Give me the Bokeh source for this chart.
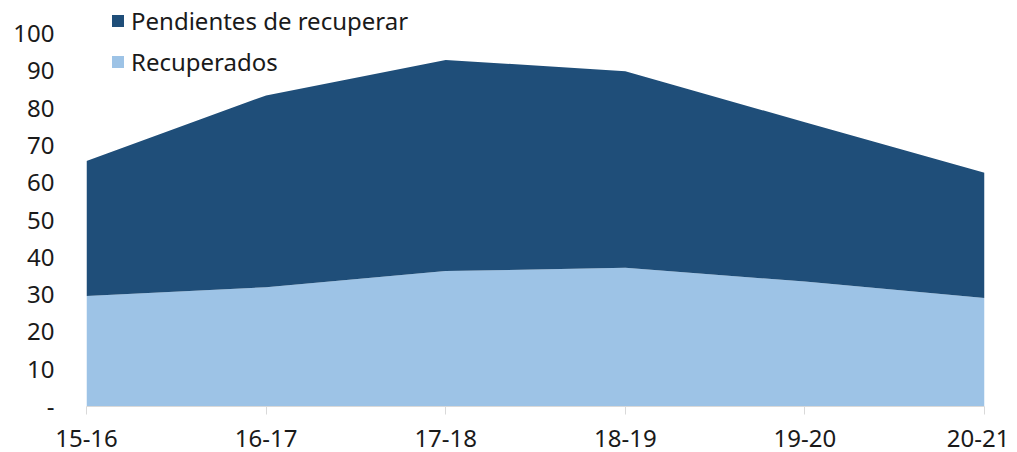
from bokeh.plotting import figure
from bokeh.models import ColumnDataSource, Range1d, FixedTicker, Legend, LegendItem
from bokeh.embed import file_html
from bokeh.resources import INLINE

categories = ["15-16", "16-17", "17-18", "18-19", "19-20", "20-21"]
recuperados = [29.6, 32.0, 36.3, 37.2, 33.5, 29.1]
pendientes = [36.2, 51.4, 56.6, 52.7, 42.7, 33.6]
y_ticks = [0, 10, 20, 30, 40, 50, 60, 70, 80, 90, 100]
y_labels = ["-", "10", "20", "30", "40", "50", "60", "70", "80", "90", "100"]

FONT = "Noto Sans"
TXT = "#1a1a1a"

src = ColumnDataSource(dict(
    x=list(range(len(categories))),
    rec=recuperados,
    pend=pendientes,
))

# frame spans canvas rows 0..406; value 100 sits at row 33
y_top = 100 * 406 / 373

p = figure(width=1009, height=452, output_backend="svg", toolbar_location=None,
           x_range=Range1d(0, len(categories) - 1), y_range=Range1d(0, y_top),
           min_border_left=86, min_border_right=25, min_border_top=0, min_border_bottom=46)
p.outline_line_color = None
p.xgrid.grid_line_color = None
p.ygrid.grid_line_color = None

r = p.varea_stack(stackers=["rec", "pend"], x="x", source=src,
                  color=["#9DC3E6", "#1F4E79"])

# x axis
p.xaxis.ticker = FixedTicker(ticks=list(range(len(categories))))
p.xaxis.major_label_overrides = {i: c for i, c in enumerate(categories)}
p.xaxis.axis_line_color = "#D9D9D9"
p.xaxis.major_tick_line_color = "#D9D9D9"
p.xaxis.major_tick_out = 8
p.xaxis.major_tick_in = 0
p.xaxis.minor_tick_line_color = None
p.xaxis.major_label_standoff = 15
p.xaxis.major_label_text_font = FONT
p.xaxis.major_label_text_font_size = "24px"
p.xaxis.major_label_text_color = TXT

# y axis
p.yaxis.ticker = FixedTicker(ticks=y_ticks)
p.yaxis.major_label_overrides = {t: l for t, l in zip(y_ticks, y_labels)}
p.yaxis.axis_line_color = None
p.yaxis.major_tick_line_color = None
p.yaxis.minor_tick_line_color = None
p.yaxis.major_tick_out = 0
p.yaxis.major_label_standoff = 32
p.yaxis.major_label_text_font = FONT
p.yaxis.major_label_text_font_size = "24px"
p.yaxis.major_label_text_color = TXT

legend = Legend(items=[
    LegendItem(label="Pendientes de recuperar", renderers=[r[1]]),
    LegendItem(label="Recuperados", renderers=[r[0]]),
], location=(24, 324), orientation="vertical")
legend.background_fill_alpha = 0
legend.border_line_color = None
legend.padding = 0
legend.margin = 0
legend.spacing = 0
legend.glyph_width = 15
legend.glyph_height = 15
legend.label_height = 41
legend.label_standoff = 6
legend.label_text_font = FONT
legend.label_text_font_size = "24px"
legend.label_text_color = TXT
p.add_layout(legend, "center")

open("out.html", "w").write(file_html(p, INLINE))
